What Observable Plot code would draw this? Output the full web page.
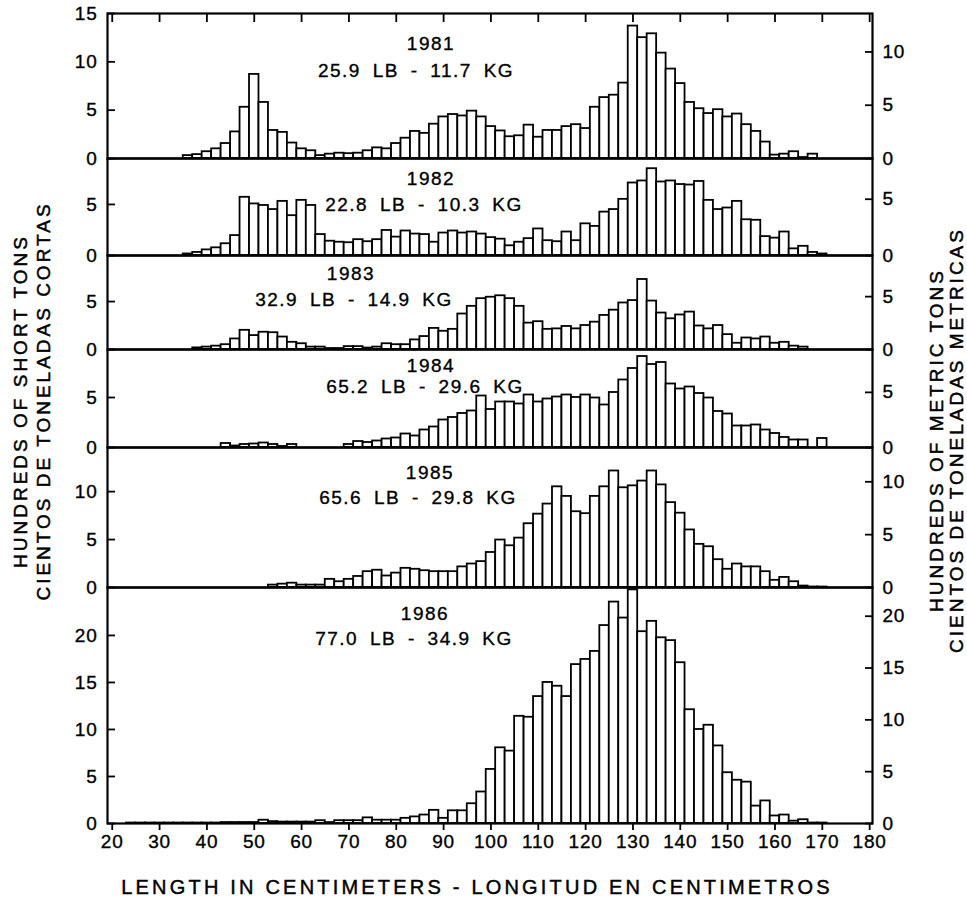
<!DOCTYPE html>
<html><head><meta charset="utf-8">
<script src="https://cdn.jsdelivr.net/npm/d3@7"></script>
<script src="https://cdn.jsdelivr.net/npm/@observablehq/plot@0.6"></script>
<style>
body{margin:0;background:#fff;}
#chart{position:relative;width:967px;height:905px;overflow:hidden;font-family:"Liberation Sans",Arial,Helvetica,sans-serif;color:#000;background:#fff;}
#chart svg{position:absolute;left:0;overflow:visible;}
#chart svg text{letter-spacing:0.8px;stroke:#000;stroke-width:0.35px;}
.lbl{position:absolute;white-space:nowrap;font-size:19px;letter-spacing:1.5px;transform:translate(-50%,-50%);line-height:1;-webkit-text-stroke:0.35px #000;}
.vt{position:absolute;white-space:nowrap;font-size:19px;letter-spacing:3px;line-height:1;transform:translate(-50%,-50%) rotate(-90deg);-webkit-text-stroke:0.5px #000;}
</style></head><body><div id="chart"></div>
<script>
// length bin centers (cm), 2-cm bins
const lengthBins = [24,26,28,30,32,34,36,38,40,42,44,46,48,50,52,54,56,58,60,62,64,66,68,70,72,74,76,78,80,82,84,86,88,90,92,94,96,98,100,102,104,106,108,110,112,114,116,118,120,122,124,126,128,130,132,134,136,138,140,142,144,146,148,150,152,154,156,158,160,162,164,166,168,170,172];

// hundreds of short tons per bin
const tons1981 = [0,0,0,0,0,0,0.3,0.4,0.7,1.0,1.55,2.75,5.3,8.7,5.8,2.9,2.7,1.6,1.0,0.8,0.3,0.45,0.55,0.5,0.55,0.8,1.1,1.0,1.55,2.1,2.8,2.6,3.55,4.3,4.55,4.4,4.9,4.3,3.3,2.85,2.25,2.35,3.45,2.2,2.9,2.9,3.3,3.5,3.1,5.3,6.3,6.55,7.8,13.7,12.5,12.9,10.9,9.25,7.75,5.8,5.15,4.65,5.05,4.3,4.6,3.5,2.8,1.7,0.35,0.45,0.7,0.1,0.45,0,0];
const tons1982 = [0,0,0,0,0,0,0.15,0.3,0.55,0.75,1.15,1.95,5.7,5.05,4.9,4.5,5.3,3.9,5.4,4.9,2.05,1.4,1.3,1.25,1.55,1.35,1.55,2.45,1.8,2.4,2.1,2.05,1.3,2.2,2.4,2.2,2.3,2.1,1.75,1.6,0.95,1.3,1.65,2.6,1.45,1.35,2.3,1.45,3.1,2.85,4.25,4.5,5.5,7.1,7.3,8.5,7.2,7.3,6.95,6.9,7.25,5.4,4.5,4.65,5.3,3.5,3.45,1.85,1.7,2.3,0.65,0.9,0.3,0.15,0];
const tons1983 = [0,0,0,0,0,0,0,0.17,0.25,0.35,0.5,1.1,2.0,1.45,1.8,1.75,1.3,0.75,0.6,0.25,0.25,0.1,0.1,0.3,0.3,0.15,0.25,0.6,0.5,0.5,1.0,1.35,2.2,1.9,2.1,3.7,4.5,5.3,5.45,5.6,5.3,4.5,2.75,2.9,2.1,2.15,2.4,2.15,2.5,2.85,3.55,4.1,4.85,5.1,7.3,5.05,3.8,3.2,3.6,3.9,2.45,2.15,2.5,1.55,0.65,1.2,1.1,1.3,0.65,0.75,0.35,0.25,0,0,0];
const tons1984 = [0,0,0,0,0,0,0,0,0,0,0.4,0.15,0.3,0.35,0.45,0.3,0.1,0.3,0,0,0,0,0,0.3,0.6,0.5,0.65,0.85,0.95,1.35,1.15,1.75,2.05,2.75,3.0,3.4,3.65,5.15,3.8,4.55,4.55,4.35,5.25,4.55,4.85,5.05,5.25,5.0,5.25,4.95,4.25,5.5,6.75,7.9,9.1,8.3,8.5,6.35,5.85,6.05,5.4,4.95,3.6,3.35,2.15,2.15,2.25,1.75,1.4,1.0,0.75,0.75,0,0.9,0];
const tons1985 = [0,0,0,0,0,0,0,0,0,0,0,0,0,0,0,0.25,0.35,0.45,0.25,0.25,0.25,0.85,0.6,0.85,1.15,1.65,1.8,1.2,1.5,2.0,1.9,1.75,1.65,1.65,1.65,2.15,2.45,2.7,3.65,4.95,4.35,5.15,6.65,7.65,8.7,10.5,9.5,7.9,7.7,9.5,10.5,12.15,10.4,10.6,11.1,12.15,10.7,8.85,7.75,6.0,4.5,4.25,2.9,1.9,2.45,2.15,2.15,1.65,0.75,1.05,0.6,0.15,0.05,0.05,0];
const tons1986 = [0.05,0.05,0.05,0.05,0.05,0.05,0.05,0.05,0.05,0.05,0.1,0.1,0.1,0.1,0.35,0.2,0.15,0.15,0.15,0.15,0.3,0.1,0.3,0.3,0.3,0.6,0.35,0.35,0.35,0.55,0.7,0.9,1.4,0.55,1.35,1.35,2.1,3.35,5.75,8.05,7.7,11.4,11.3,13.5,15.0,14.6,13.5,16.9,17.45,18.3,21.05,23.55,21.85,24.85,20.4,21.5,19.75,19.45,17.1,12.1,10.0,10.45,8.25,5.4,4.6,4.4,1.85,2.4,0.8,0.9,0.25,0.4,0.05,0.05,0];

const years = ["1981","1982","1983","1984","1985","1986"];
const meanWeights = ["25.9 LB - 11.7 KG","22.8 LB - 10.3 KG","32.9 LB - 14.9 KG","65.2 LB - 29.6 KG","65.6 LB - 29.8 KG","77.0 LB - 34.9 KG"];
const seriesTons = [tons1981,tons1982,tons1983,tons1984,tons1985,tons1986];
const shortTicks = [[0,5,10,15],[0,5],[0,5],[0,5],[0,5,10],[0,5,10,15,20]];
const metricTicks = [[0,5,10],[0,5],[0,5],[0,5],[0,5,10],[0,5,10,15,20]];
const xTicks = [20,30,40,50,60,70,80,90,100,110,120,130,140,150,160,170,180];
const SHORT_PER_METRIC = 1.1023;

// layout (pixels) and y-domain per panel
const panels = [
  {top:13, bottom:158, ymax:15.0, yr:[431,43], wt:[416,70]},
  {top:158, bottom:255, ymax:9.5, yr:[431,178], wt:[424,204]},
  {top:255, bottom:349, ymax:9.8, yr:[351,273], wt:[354,299]},
  {top:349, bottom:447, ymax:9.8, yr:[431,365], wt:[425,386]},
  {top:447, bottom:587, ymax:14.6, yr:[430,472], wt:[418,497]},
  {top:587, bottom:823, ymax:25.1, yr:[425,613], wt:[414,638]}
];

const chart = document.getElementById("chart");
const font = '"Liberation Sans", Arial, Helvetica, sans-serif';

panels.forEach((p, i) => {
  const data = lengthBins.map((c, j) => ({c, v: seriesTons[i][j]})).filter(d => d.v > 0);
  const h = p.bottom - p.top;
  const last = i === panels.length - 1;
  const mb = last ? 40 : 0;
  const marks = [
    Plot.rectY(data, {x1: d => d.c - 1, x2: d => d.c + 1, y: "v", fill: "white", stroke: "black", strokeWidth: 1.8}),
    Plot.frame({stroke: "black", strokeWidth: 2.2}),
    Plot.axisY(shortTicks[i], {anchor: "left", tickSize: 8, dx: 8, fill: "none", strokeWidth: 1.8, label: null}),
    Plot.axisY(shortTicks[i], {anchor: "left", tickSize: 0, tickPadding: 10, stroke: "none", label: null}),
    Plot.axisY(metricTicks[i].map(v => v * SHORT_PER_METRIC), {anchor: "right", tickSize: 8, dx: -8, fill: "none", strokeWidth: 1.8, label: null}),
    Plot.axisY(metricTicks[i].map(v => v * SHORT_PER_METRIC), {anchor: "right", tickSize: 0, tickPadding: 10, stroke: "none", tickFormat: d => String(Math.round(d / SHORT_PER_METRIC)), label: null})
  ];
  if (i === 0) marks.push(Plot.axisX(xTicks, {anchor: "top", tickSize: 8, dy: 8, fill: "none", strokeWidth: 1.8, label: null}));
  if (last) marks.push(Plot.axisX(xTicks, {anchor: "bottom", tickSize: 7, tickPadding: 4, strokeWidth: 1.8, label: null}));
  const svg = Plot.plot({
    width: 967, height: h + mb,
    marginTop: 0, marginBottom: mb, marginLeft: 107, marginRight: 95,
    x: {domain: [19, 180.6], axis: null},
    y: {domain: [0, p.ymax], axis: null, label: null},
    style: {background: "transparent", overflow: "visible", fontFamily: font, fontSize: "19px", color: "black"},
    marks
  });
  svg.style.top = p.top + "px";
  chart.appendChild(svg);

  const yl = document.createElement("div");
  yl.className = "lbl"; yl.textContent = years[i];
  yl.style.left = p.yr[0] + "px"; yl.style.top = p.yr[1] + "px";
  chart.appendChild(yl);
  const wl = document.createElement("div");
  wl.className = "lbl"; wl.textContent = meanWeights[i]; wl.style.wordSpacing = "5px";
  wl.style.left = p.wt[0] + "px"; wl.style.top = p.wt[1] + "px";
  chart.appendChild(wl);
});

function addText(cls, text, x, y, extra) {
  const d = document.createElement("div");
  d.className = cls; d.textContent = text;
  d.style.left = x + "px"; d.style.top = y + "px";
  if (extra) Object.assign(d.style, extra);
  chart.appendChild(d);
}
addText("vt", "HUNDREDS OF SHORT TONS", 20, 401);
addText("vt", "CIENTOS DE TONELADAS CORTAS", 43, 401);
addText("vt", "HUNDREDS OF METRIC TONS", 936, 440);
addText("vt", "CIENTOS DE TONELADAS METRICAS", 956, 440);
addText("lbl", "LENGTH IN CENTIMETERS - LONGITUD EN CENTIMETROS", 477, 887, {fontSize: "20px", letterSpacing: "3.2px", webkitTextStroke: "0.45px #000"});
</script></body></html>
